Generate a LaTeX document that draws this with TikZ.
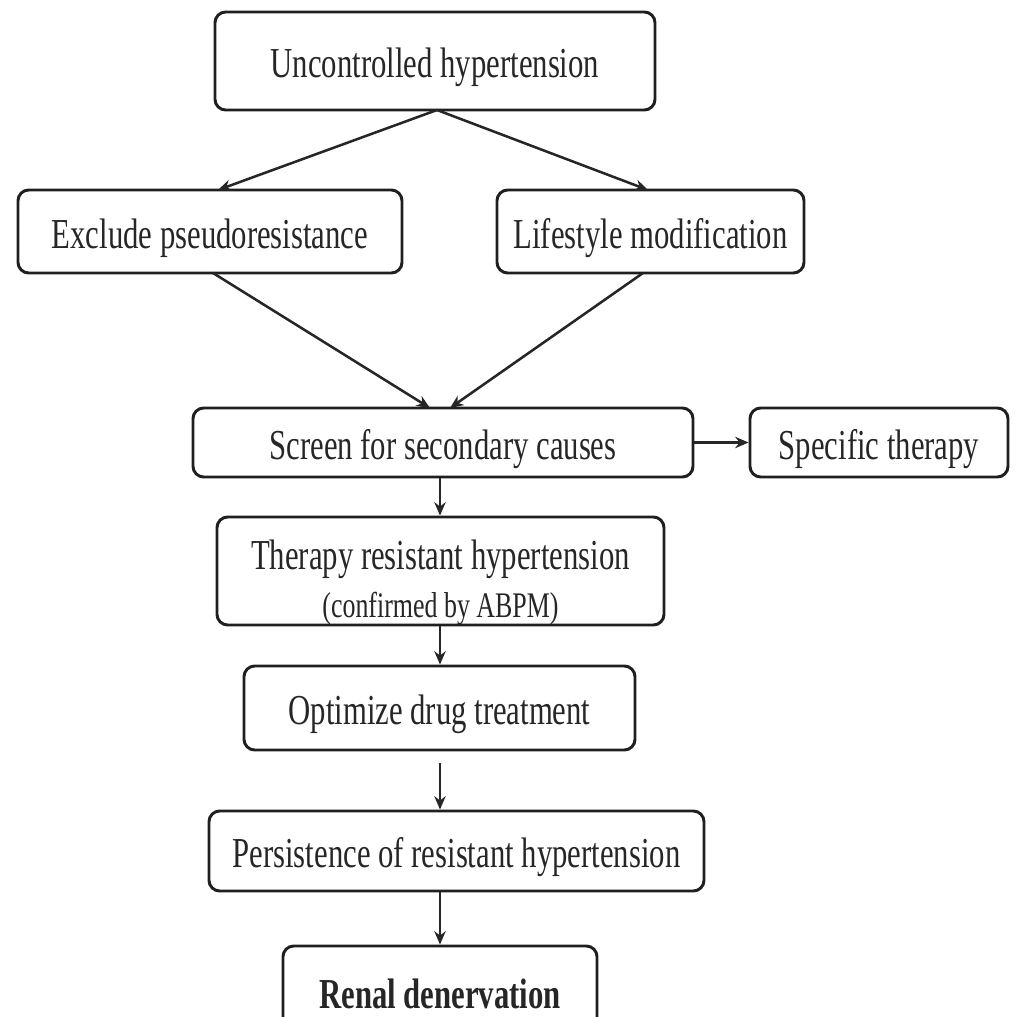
\documentclass[tikz,border=0pt]{standalone}
\usepackage{fontspec}
\setmainfont{Liberation Serif}[FakeStretch=0.72]
\usetikzlibrary{arrows.meta}
\begin{document}
\begin{tikzpicture}[x=0.75pt,y=-0.75pt,
  box/.style={draw=black!88,line width=2.2pt,rounded corners=8pt,inner sep=0pt,
    font=\fontsize{32}{36}\selectfont,text=black!85,align=center,
    text height=25pt,text depth=0pt},
  conn/.style={draw=black!85,line width=1.9pt,-{Stealth[length=10pt,width=8.5pt]}}]
\useasboundingbox (0,0) rectangle (1018,1017);
\clip (0,0) rectangle (1018,1017);
\node[box,minimum width=330pt,minimum height=73.5pt] (unc) at (435,61) {Uncontrolled hypertension};
\node[box,minimum width=288pt,minimum height=62.25pt] (excl) at (210,231.5) {Exclude pseudoresistance};
\node[box,minimum width=230.25pt,minimum height=62.25pt] (life) at (650.5,231.5) {Lifestyle modification};
\node[box,minimum width=375pt,minimum height=51.75pt] (screen) at (443,442.5) {Screen for secondary causes};
\node[box,minimum width=193.5pt,minimum height=51.75pt] (spec) at (879,442.5) {Specific therapy};
\node[box,minimum width=335.25pt,minimum height=81pt,text height={},text depth=0pt] (trh) at (440.5,571) {\rule{0pt}{34pt}Therapy resistant hypertension\\[0pt]{\fontsize{27}{30}\selectfont (confirmed by ABPM)}};
\node[box,minimum width=293.25pt,minimum height=63pt] (opt) at (439.5,708) {Optimize drug treatment};
\node[box,minimum width=371.25pt,minimum height=60pt] (pers) at (456.5,851) {Persistence of resistant hypertension};
\node[box,minimum width=235.5pt,minimum height=75pt,text depth=7pt,font=\fontsize{32}{36}\selectfont\bfseries] (renal) at (440,996) {Renal denervation};
\coordinate (u1) at (437,110);
\draw[conn] (u1) -- (218,190) coordinate (excltop);
\draw[conn] (u1) -- (648,190) coordinate (lifetop);
\draw[conn] (213,273) -- (430,408);
\draw[conn] (643,273) -- (450,408);
\draw[conn] (screen.east) -- (spec.west);
\draw[conn] (screen.south -| 440,0) -- (trh.north -| 440,0);
\draw[conn] (trh.south -| 440,0) -- (opt.north -| 440,0);
\draw[conn,shorten <=9pt] (opt.south -| 440,0) -- (pers.north -| 440,0);
\draw[conn] (pers.south -| 440,0) -- (renal.north -| 440,0);
\end{tikzpicture}
\end{document}
